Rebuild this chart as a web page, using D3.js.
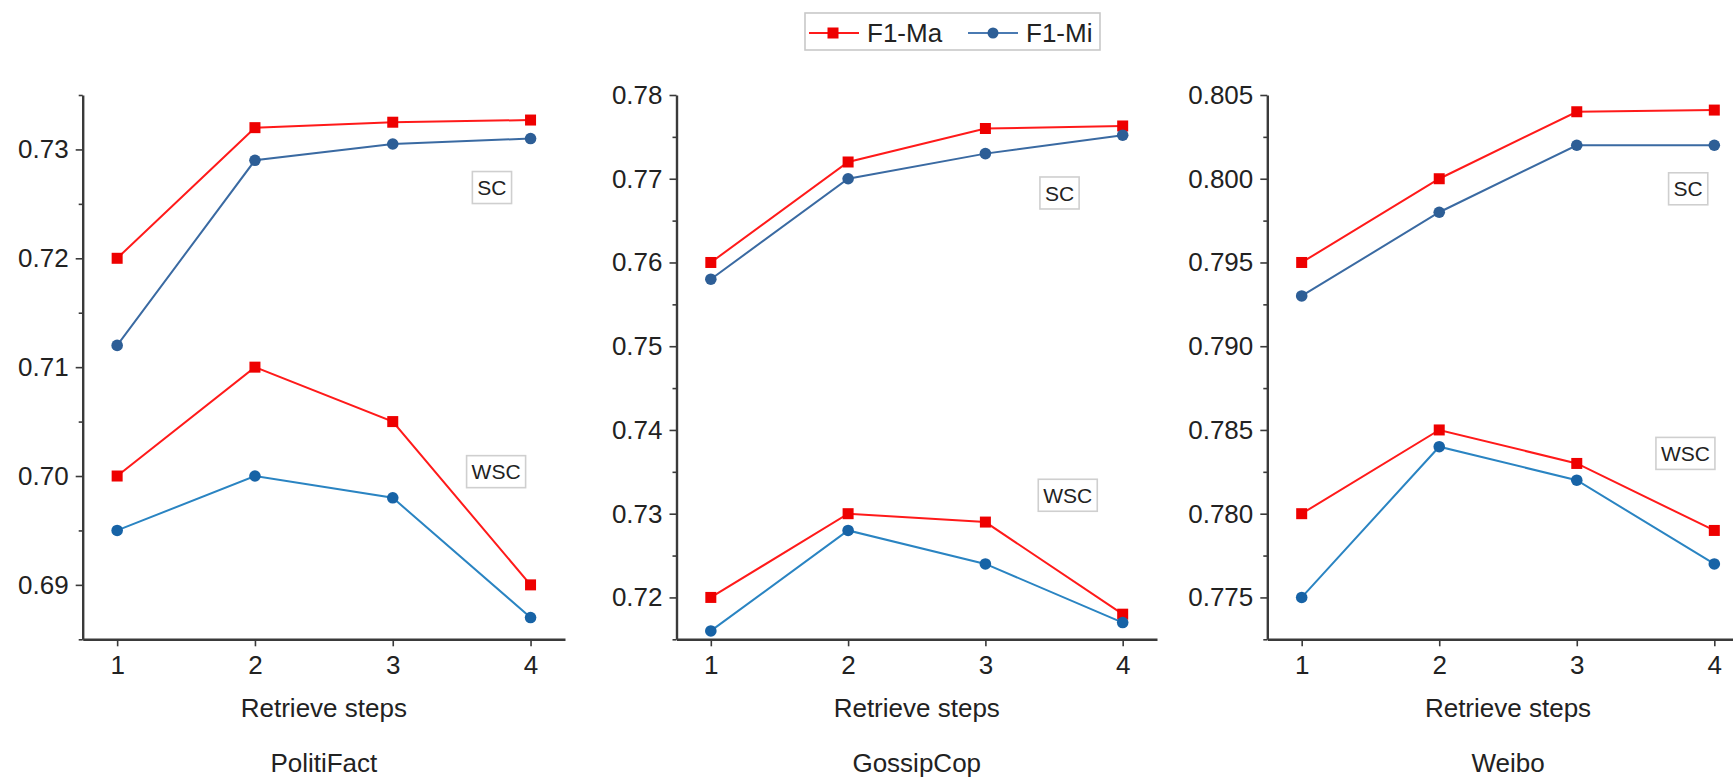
<!DOCTYPE html>
<meta charset="utf-8">
<script src="https://d3js.org/d3.v7.min.js"></script>
<style>
  body { margin: 0; background: #fff; }
  text { font-family: "Liberation Sans", Arial, sans-serif; fill: #222; }
</style>
<div id="chart"></div>
<script>

// x values shared by every panel
var steps = [1, 2, 3, 4];
var seriesNames = ["F1-Ma", "F1-Mi"];

// PolitiFact
var politiScMa  = [0.720, 0.732, 0.7325, 0.7327];
var politiScMi  = [0.712, 0.729, 0.7305, 0.731];
var politiWscMa = [0.700, 0.710, 0.705, 0.690];
var politiWscMi = [0.695, 0.700, 0.698, 0.687];
var politiTicks = [0.69, 0.70, 0.71, 0.72, 0.73];

// GossipCop
var gossipScMa  = [0.760, 0.772, 0.776, 0.7763];
var gossipScMi  = [0.758, 0.770, 0.773, 0.7752];
var gossipWscMa = [0.720, 0.730, 0.729, 0.718];
var gossipWscMi = [0.716, 0.728, 0.724, 0.717];
var gossipTicks = [0.72, 0.73, 0.74, 0.75, 0.76, 0.77, 0.78];

// Weibo
var weiboScMa  = [0.795, 0.800, 0.804, 0.8041];
var weiboScMi  = [0.793, 0.798, 0.802, 0.802];
var weiboWscMa = [0.780, 0.785, 0.783, 0.779];
var weiboWscMi = [0.775, 0.784, 0.782, 0.777];
var weiboTicks = [0.775, 0.780, 0.785, 0.790, 0.795, 0.800, 0.805];

var W = 1733, H = 778;
var plotTop = 95, plotBottom = 639.3;

var panels = [
  { title: "PolitiFact", left: 82.7,  right: 565,    domain: [0.685, 0.735],  ticks: politiTicks, minorStep: 0.005,  fmt: ".2f",
    sc: [politiScMa, politiScMi], wsc: [politiWscMa, politiWscMi],
    notes: [["SC", 3.72, 0.7265], ["WSC", 3.75, 0.7004]] },
  { title: "GossipCop",  left: 676.5, right: 1157,   domain: [0.715, 0.78],   ticks: gossipTicks, minorStep: 0.005,  fmt: ".2f",
    sc: [gossipScMa, gossipScMi], wsc: [gossipWscMa, gossipWscMi],
    notes: [["SC", 3.54, 0.7683], ["WSC", 3.60, 0.7322]] },
  { title: "Weibo",      left: 1267.3, right: 1748.7, domain: [0.7725, 0.805], ticks: weiboTicks,  minorStep: 0.0025, fmt: ".3f",
    sc: [weiboScMa, weiboScMi], wsc: [weiboWscMa, weiboWscMi],
    notes: [["SC", 3.81, 0.7994], ["WSC", 3.79, 0.7836]] }
];

var red = "#ff1a1a", redMark = "#ee0000";
var blueSc = "#3a6aa2", blueScMark = "#2d5e96";
var blueWsc = "#2a84c2", blueWscMark = "#1763a6";

var svg = d3.select("#chart").append("svg")
  .attr("width", W).attr("height", H);
svg.append("rect").attr("width", W).attr("height", H).attr("fill", "#fff");

panels.forEach(function(p) {
  var x = d3.scaleLinear().domain([0.75, 4.25]).range([p.left, p.right]);
  var y = d3.scaleLinear().domain(p.domain).range([plotBottom, plotTop]);
  var g = svg.append("g");

  // minor ticks (every half step, unlabeled)
  var minor = d3.range(p.domain[0], p.domain[1] + 1e-9, p.minorStep)
    .filter(function(v) { return !p.ticks.some(function(t) { return Math.abs(t - v) < 1e-9; }); });
  g.append("g")
    .attr("transform", "translate(" + p.left + ",0)")
    .call(d3.axisLeft(y).tickValues(minor).tickFormat("").tickSize(4).tickSizeOuter(0))
    .call(function(a) { a.select(".domain").remove(); });

  g.append("g")
    .attr("transform", "translate(" + p.left + ",0)")
    .call(d3.axisLeft(y).tickValues(p.ticks).tickFormat(d3.format(p.fmt))
      .tickSize(7).tickPadding(7).tickSizeOuter(0));

  g.append("g")
    .attr("transform", "translate(0," + plotBottom + ")")
    .call(d3.axisBottom(x).tickValues(steps).tickFormat(d3.format("d"))
      .tickSize(7).tickPadding(9).tickSizeOuter(0));

  g.selectAll(".domain").attr("stroke", "#3a3a3a").attr("stroke-width", 2.4);
  g.selectAll(".tick line").attr("stroke", "#3a3a3a").attr("stroke-width", 1.6);
  g.selectAll(".tick text").attr("font-size", 26).attr("fill", "#222")
    .attr("font-family", "'Liberation Sans', Arial, sans-serif");

  var line = d3.line()
    .x(function(d, i) { return x(steps[i]); })
    .y(function(d) { return y(d); });

  [[p.sc, blueSc, blueScMark], [p.wsc, blueWsc, blueWscMark]].forEach(function(grp) {
    var ma = grp[0][0], mi = grp[0][1];

    g.append("path").datum(ma)
      .attr("d", line).attr("fill", "none")
      .attr("stroke", red).attr("stroke-width", 2);
    g.selectAll(null).data(ma).enter().append("rect")
      .attr("x", function(d, i) { return x(steps[i]) - 5.5; })
      .attr("y", function(d) { return y(d) - 5.5; })
      .attr("width", 11).attr("height", 11)
      .attr("fill", redMark);

    g.append("path").datum(mi)
      .attr("d", line).attr("fill", "none")
      .attr("stroke", grp[1]).attr("stroke-width", 2);
    g.selectAll(null).data(mi).enter().append("circle")
      .attr("cx", function(d, i) { return x(steps[i]); })
      .attr("cy", function(d) { return y(d); })
      .attr("r", 5.8)
      .attr("fill", grp[2]);
  });

  // boxed SC / WSC notes
  p.notes.forEach(function(n) {
    var cx = x(n[1]), cy = y(n[2]);
    var box = g.append("rect");
    var t = g.append("text")
      .attr("x", cx).attr("y", cy)
      .attr("text-anchor", "middle").attr("dy", "0.36em")
      .attr("font-size", 21).text(n[0]);
    var bb = t.node().getBBox();
    box.attr("x", bb.x - 5).attr("y", cy - 16)
      .attr("width", bb.width + 10).attr("height", 32)
      .attr("fill", "#fff").attr("stroke", "#cfcfcf").attr("stroke-width", 1.6);
  });

  var mid = (p.left + p.right) / 2;
  g.append("text").attr("x", mid).attr("y", 716.7)
    .attr("text-anchor", "middle").attr("font-size", 26).text("Retrieve steps");
  g.append("text").attr("x", mid).attr("y", 771.7)
    .attr("text-anchor", "middle").attr("font-size", 26).text(p.title);
});

// legend
var legend = svg.append("g");
legend.append("rect")
  .attr("x", 805).attr("y", 13).attr("width", 295).attr("height", 37)
  .attr("fill", "#fff").attr("stroke", "#c8c8c8").attr("stroke-width", 1.6);

var legendItems = legend.selectAll("g.item").data(seriesNames).enter().append("g")
  .attr("class", "item")
  .attr("transform", function(d, i) { return "translate(" + (809 + i * 159) + ",33)"; });

legendItems.append("line")
  .attr("x1", 0).attr("x2", 50).attr("y1", 0).attr("y2", 0)
  .attr("stroke", function(d, i) { return i === 0 ? red : "#4a7ab2"; })
  .attr("stroke-width", 2);
legendItems.each(function(d, i) {
  var s = d3.select(this);
  if (i === 0) {
    s.append("rect").attr("x", 24 - 5.5).attr("y", -5.5).attr("width", 11).attr("height", 11).attr("fill", redMark);
  } else {
    s.append("circle").attr("cx", 25).attr("cy", 0).attr("r", 5.5).attr("fill", blueScMark);
  }
});
legendItems.append("text")
  .attr("x", 58).attr("y", 9)
  .attr("font-size", 26).text(function(d) { return d; });

</script>
